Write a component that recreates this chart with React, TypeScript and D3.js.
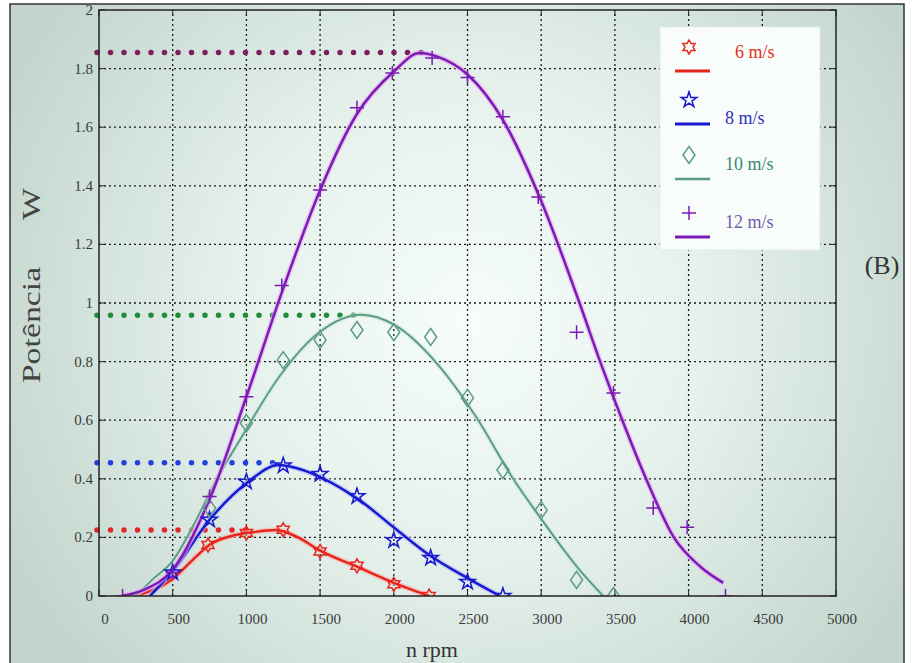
import React from "react";
import * as d3 from "d3";

// measured points (n rpm, W)
const rpm6 = [740, 1000, 1250, 1500, 1750, 2000, 2240];
const pot6 = [0.174, 0.215, 0.226, 0.152, 0.103, 0.04, 0];
const rpm8 = [500, 750, 1000, 1250, 1500, 1750, 2000, 2250, 2500, 2740];
const pot8 = [0.08, 0.26, 0.39, 0.445, 0.416, 0.34, 0.19, 0.13, 0.048, 0];
const rpm10 = [750, 1000, 1250, 1500, 1750, 2000, 2250, 2500, 2740, 3000, 3240, 3490];
const pot10 = [0.3, 0.59, 0.805, 0.874, 0.908, 0.9, 0.884, 0.676, 0.43, 0.293, 0.055, 0];
const rpm12 = [160, 500, 750, 1000, 1240, 1500, 1750, 1990, 2260, 2500, 2740, 2980, 3240, 3490, 3760, 3990, 4250];
const pot12 = [0, 0.08, 0.34, 0.68, 1.06, 1.386, 1.666, 1.785, 1.836, 1.77, 1.636, 1.362, 0.9, 0.693, 0.3, 0.235, 0];

// fitted curves
const fitRpm6 = [240, 490, 650, 750, 900, 1050, 1200, 1350, 1500, 1750, 2000, 2240];
const fitPot6 = [0, 0.055, 0.13, 0.175, 0.205, 0.218, 0.225, 0.2, 0.155, 0.1, 0.045, 0];
const fitRpm8 = [345, 500, 750, 1000, 1220, 1350, 1500, 1765, 2005, 2240, 2500, 2720];
const fitPot8 = [0, 0.085, 0.26, 0.385, 0.447, 0.435, 0.406, 0.328, 0.232, 0.14, 0.061, 0];
const fitRpm10 = [250, 360, 500, 650, 800, 965, 1225, 1495, 1780, 2005, 2290, 2560, 2810, 2990, 3260, 3420];
const fitPot10 = [0, 0.055, 0.12, 0.25, 0.4, 0.54, 0.75, 0.9, 0.96, 0.925, 0.795, 0.61, 0.4, 0.27, 0.089, 0];
const fitRpm12 = [150, 300, 500, 750, 1000, 1250, 1500, 1750, 2000, 2175, 2300, 2500, 2740, 2990, 3260, 3400, 3555, 3715, 3900, 4080, 4235];
const fitPot12 = [0, 0.02, 0.09, 0.33, 0.68, 1.05, 1.385, 1.645, 1.79, 1.853, 1.84, 1.78, 1.625, 1.36, 1.0, 0.8, 0.594, 0.396, 0.2, 0.1, 0.045];

// dotted max-power marks
const maxPot = [0.225, 0.455, 0.958, 1.855];
const maxRpm = [1000, 1230, 1800, 2200];

const labels = ["6  m/s", "8  m/s", "10 m/s", "12 m/s"];
const xTicks = d3.range(0, 5001, 500);
const yTicks = [0, 0.2, 0.4, 0.6, 0.8, 1, 1.2, 1.4, 1.6, 1.8, 2];

const x = d3.scaleLinear().domain([0, 5000]).range([99, 836]);
const y = d3.scaleLinear().domain([0, 2]).range([596, 10]);

const serif = "Liberation Serif, DejaVu Serif, serif";

function hexagram(r: number) {
  const pts = d3.range(12).map((i) => {
    const rad = i % 2 === 0 ? r : r / Math.sqrt(3);
    const a = (i * Math.PI) / 6 - Math.PI / 2;
    return [rad * Math.cos(a), rad * Math.sin(a)];
  });
  return "M" + pts.map((p) => p.join(",")).join("L") + "Z";
}

const starPath = d3.symbol(d3.symbolStar, 75)()!;
const diamondPath = "M0,-8.5L6,0L0,8.5L-6,0Z";
const plusPath = "M-7,0H7M0,-7V7";

const series = [
  { rpm: rpm6, pot: pot6, fr: fitRpm6, fp: fitPot6, color: "#e8251c", halo: "#f6b0a8", dot: "#e3262a", text: "#e03020", mark: hexagram(7), w: 2.5 },
  { rpm: rpm8, pot: pot8, fr: fitRpm8, fp: fitPot8, color: "#1818d0", halo: "#b4bcf4", dot: "#2040e0", text: "#3030c0", mark: starPath, w: 2.5 },
  { rpm: rpm10, pot: pot10, fr: fitRpm10, fp: fitPot10, color: "#5b9c84", halo: "#cfe8dc", dot: "#1e8c3a", text: "#3a8a70", mark: diamondPath, w: 2 },
  { rpm: rpm12, pot: pot12, fr: fitRpm12, fp: fitPot12, color: "#7a1cb4", halo: "#eaa6f2", dot: "#7b1f5e", text: "#7060a8", mark: plusPath, w: 2.5 },
];

const line = d3
  .line<[number, number]>()
  .x((d) => x(d[0]))
  .y((d) => y(d[1]))
  .curve(d3.curveMonotoneX);

export default function App() {
  const legendY = [47, 100, 155, 213];
  const textY = [58, 124, 170, 228];
  return (
    <svg width={912} height={663} style={{ position: "absolute", left: 0, top: 0 }} fontFamily={serif}>
      <defs>
        <radialGradient id="bg" cx="470" cy="320" r="520" gradientUnits="userSpaceOnUse">
          <stop offset="0" stopColor="#f6fdfa" />
          <stop offset="0.45" stopColor="#e6f1ec" />
          <stop offset="1" stopColor="#c2d5cd" />
        </radialGradient>
        <clipPath id="plot">
          <rect x={x(0)} y={y(2)} width={x(5000) - x(0)} height={y(0) - y(2)} />
        </clipPath>
      </defs>
      <rect x={0} y={0} width={912} height={663} fill="#ffffff" />
      <rect x={10} y={4} width={894} height={660} fill="url(#bg)" stroke="#333" strokeWidth={1.5} />

      {/* grid */}
      <g stroke="#1a1a1a" strokeWidth={1.3} strokeDasharray="2 3">
        {xTicks.slice(1, -1).map((t) => (
          <line key={"gx" + t} x1={x(t)} x2={x(t)} y1={y(0)} y2={y(2)} />
        ))}
        {yTicks.slice(1, -1).map((t) => (
          <line key={"gy" + t} x1={x(0)} x2={x(5000)} y1={y(t)} y2={y(t)} />
        ))}
      </g>

      {/* tick marks */}
      <g stroke="#222" strokeWidth={1}>
        {xTicks.map((t) => (
          <g key={"tx" + t}>
            <line x1={x(t)} x2={x(t)} y1={y(0)} y2={y(0) - 6} />
            <line x1={x(t)} x2={x(t)} y1={y(2)} y2={y(2) + 6} />
          </g>
        ))}
        {yTicks.map((t) => (
          <g key={"ty" + t}>
            <line x1={x(0)} x2={x(0) + 6} y1={y(t)} y2={y(t)} />
            <line x1={x(5000)} x2={x(5000) - 6} y1={y(t)} y2={y(t)} />
          </g>
        ))}
      </g>

      {/* dotted max lines */}
      {series.map((s, i) => (
        <line
          key={"m" + i}
          x1={x(0) - 2}
          x2={x(maxRpm[i])}
          y1={y(maxPot[i])}
          y2={y(maxPot[i])}
          stroke={s.dot}
          strokeWidth={5.5}
          strokeLinecap="round"
          strokeDasharray="0 13.5"
        />
      ))}

      {/* curves and markers */}
      <g clipPath="url(#plot)">
        {series.map((s, i) => {
          const pts = s.fr.map((r, k) => [r, s.fp[k]] as [number, number]);
          return (
            <g key={"c" + i}>
              <path d={line(pts)!} fill="none" stroke={s.halo} strokeWidth={s.w + 3} opacity={0.6} />
              <path d={line(pts)!} fill="none" stroke={s.color} strokeWidth={s.w} />
            </g>
          );
        })}
        {series.map((s, i) => (
          <g key={"p" + i} fill="none" stroke={s.color} strokeWidth={1.5}>
            {s.rpm.map((r, k) => (
              <path key={k} d={s.mark} transform={`translate(${x(r)},${y(s.pot[k])})`} />
            ))}
          </g>
        ))}
      </g>

      {/* axes box */}
      <rect x={x(0)} y={y(2)} width={x(5000) - x(0)} height={y(0) - y(2)} fill="none" stroke="#222" strokeWidth={1.5} />

      {/* tick labels */}
      <g fontSize={15} fill="#3a3a3a">
        {xTicks.map((t) => (
          <text key={"lx" + t} x={x(t) + 6} y={y(0) + 28} textAnchor="middle">
            {t}
          </text>
        ))}
        {yTicks.map((t) => (
          <text key={"ly" + t} x={x(0) - 6} y={y(t) + 5} textAnchor="end">
            {t}
          </text>
        ))}
      </g>

      <text x={432} y={657} fontSize={22} fill="#333" textAnchor="middle">
        n  rpm
      </text>
      <g fontSize={26} fill="#444" textAnchor="middle">
        <text transform="translate(40,325) rotate(-90) scale(1.3,1)">Potência</text>
        <text transform="translate(40,204) rotate(-90) scale(1.3,1)">W</text>
      </g>
      <text x={882} y={274} fontSize={26} fill="#333" textAnchor="middle">
        (B)
      </text>

      {/* legend */}
      <rect x={660} y={27} width={160} height={223} fill="#f8fcfa" stroke="#e2ebe7" strokeWidth={1} />
      {series.map((s, i) => (
        <g key={"lg" + i}>
          <path d={s.mark} transform={`translate(689,${legendY[i]})`} fill="none" stroke={s.color} strokeWidth={1.5} />
          <line x1={675} x2={710} y1={legendY[i] + 24} y2={legendY[i] + 24} stroke={s.color} strokeWidth={s.w + 0.5} />
          <text x={i === 0 ? 735 : 725} y={textY[i]} fontSize={18} fill={s.text}>
            {labels[i]}
          </text>
        </g>
      ))}
    </svg>
  );
}
